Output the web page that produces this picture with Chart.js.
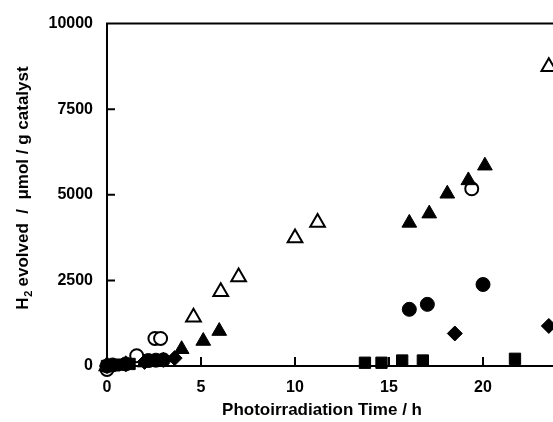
<!DOCTYPE html>
<html>
<head>
<meta charset="utf-8">
<script src="https://cdn.jsdelivr.net/npm/chart.js@4/dist/chart.umd.min.js"></script>
<style>
	html, body { margin: 0; padding: 0; background: #fff; overflow: hidden; }
	#h2Chart { display: block; }
</style>
</head>
<body>
<canvas id="h2Chart" width="580" height="422"></canvas>
<script>
// values (time in h, H2 in umol / g catalyst)
const openTriX = [0, 4.6, 6.05, 7.0, 10.0, 11.2, 23.5];
const openTriY = [0, 1425, 2170, 2600, 3740, 4190, 8740];

const fillTriX = [0, 1.0, 2.0, 3.97, 5.12, 5.97, 16.08, 17.14, 18.1, 19.22, 20.1];
const fillTriY = [0, 50, 100, 490, 730, 1020, 4180, 4450, 5030, 5420, 5850];

const openCircX = [0, 1.58, 2.55, 2.85, 19.4];
const openCircY = [-100, 300, 805, 805, 5175];

const fillCircX = [0, 0.3, 1.0, 2.2, 2.6, 3.0, 16.08, 17.04, 20.0];
const fillCircY = [0, 30, 60, 160, 170, 180, 1655, 1800, 2380];

const diamondX = [0, 1.0, 2.0, 3.0, 3.6, 18.5, 23.5];
const diamondY = [0, 50, 120, 180, 230, 950, 1170];

const squareX = [0, 0.4, 0.8, 1.2, 13.72, 14.6, 15.7, 16.8, 21.7];
const squareY = [0, 20, 40, 60, 95, 95, 160, 160, 210];

const xTicks = [0, 5, 10, 15, 20];
const yTicks = [0, 2500, 5000, 7500, 10000];

const xTitle = 'Photoirradiation Time / h';
// y title in pieces so the 2 can be a real subscript
const yTitleParts = ['H', '2', ' evolved  /  \u03bcmol / g catalyst'];

const toPoints = (xs, ys) => xs.map((x, i) => ({ x: x, y: ys[i] }));

const fontFam = '"Liberation Sans", Arial, Helvetica, sans-serif';

// axes frame with inward tick marks, drawn under the markers
const frame = {
	id: 'frame',
	beforeDatasetsDraw(chart) {
		const ctx = chart.ctx;
		const a = chart.chartArea;
		const xs = chart.scales.x;
		const ys = chart.scales.y;
		ctx.save();
		ctx.strokeStyle = '#000';
		ctx.lineWidth = 2;
		ctx.beginPath();
		ctx.moveTo(a.right, a.top);
		ctx.lineTo(a.left, a.top);
		ctx.lineTo(a.left, a.bottom);
		ctx.lineTo(a.right, a.bottom);
		for (const v of yTicks) {
			const py = ys.getPixelForValue(v);
			ctx.moveTo(a.left, py);
			ctx.lineTo(a.left + 8, py);
		}
		for (const v of xTicks) {
			const px = xs.getPixelForValue(v);
			ctx.moveTo(px, a.bottom);
			ctx.lineTo(px, a.bottom - 9);
		}
		ctx.stroke();
		ctx.restore();
	},
	// axis titles (x title sits left of the plot centre in the original)
	afterDraw(chart) {
		const ctx = chart.ctx;
		ctx.save();
		ctx.fillStyle = '#000';
		ctx.font = 'bold 17px ' + fontFam;
		ctx.textAlign = 'center';
		ctx.textBaseline = 'middle';
		ctx.fillText(xTitle, 322, 410);

		const big = 'bold 17px ' + fontFam;
		const small = 'bold 11px ' + fontFam;
		ctx.font = big;
		const w0 = ctx.measureText(yTitleParts[0]).width;
		const w2 = ctx.measureText(yTitleParts[2]).width;
		ctx.font = small;
		const w1 = ctx.measureText(yTitleParts[1]).width;
		const total = w0 + w1 + w2;
		ctx.translate(28, 188);
		ctx.rotate(-Math.PI / 2);
		ctx.textAlign = 'left';
		ctx.textBaseline = 'alphabetic';
		let px = -total / 2;
		ctx.font = big;
		ctx.fillText(yTitleParts[0], px, 0);
		px += w0;
		ctx.font = small;
		ctx.fillText(yTitleParts[1], px + 0.5, 4);
		px += w1;
		ctx.font = big;
		ctx.fillText(yTitleParts[2], px, 0);
		ctx.restore();
	}
};

const ds = (pts, style, radius, filled, order) => ({
	data: pts,
	pointStyle: style,
	pointRadius: radius,
	pointHoverRadius: radius,
	pointBackgroundColor: filled ? '#000' : '#fff',
	pointBorderColor: '#000',
	pointBorderWidth: filled ? 1 : 2,
	showLine: false,
	clip: false,
	order: order
});

new Chart(document.getElementById('h2Chart'), {
	type: 'scatter',
	data: {
		datasets: [
			ds(toPoints(openCircX, openCircY), 'circle', 6.5, false, 6),
			ds(toPoints(openTriX, openTriY), 'triangle', 8.5, false, 5),
			ds(toPoints(squareX, squareY), 'rect', 8, true, 4),
			ds(toPoints(diamondX, diamondY), 'rectRot', 7.5, true, 3),
			ds(toPoints(fillCircX, fillCircY), 'circle', 7, true, 2),
			ds(toPoints(fillTriX, fillTriY), 'triangle', 8.5, true, 1)
		]
	},
	options: {
		responsive: false,
		animation: false,
		events: [],
		layout: { padding: { left: 0, top: 16, right: 3, bottom: 0 } },
		plugins: {
			legend: { display: false },
			tooltip: { enabled: false }
		},
		scales: {
			x: {
				type: 'linear',
				min: 0,
				max: 24.6,
				grid: { display: false, drawTicks: false },
				border: { display: false },
				ticks: {
					stepSize: 5,
					padding: 12,
					color: '#000',
					font: { family: fontFam, size: 16, weight: 'bold' },
					callback: v => xTicks.includes(v) ? v : ''
				},
				title: { display: false },
				afterFit: s => { s.height = 56; s.paddingRight = 0; }
			},
			y: {
				type: 'linear',
				min: 0,
				max: 10000,
				grid: { display: false, drawTicks: false },
				border: { display: false },
				ticks: {
					stepSize: 2500,
					padding: 14,
					color: '#000',
					font: { family: fontFam, size: 16, weight: 'bold' },
					callback: v => String(v)
				},
				title: { display: false },
				afterFit: s => { s.width = 107; }
			}
		}
	},
	plugins: [frame]
});
</script>
</body>
</html>
